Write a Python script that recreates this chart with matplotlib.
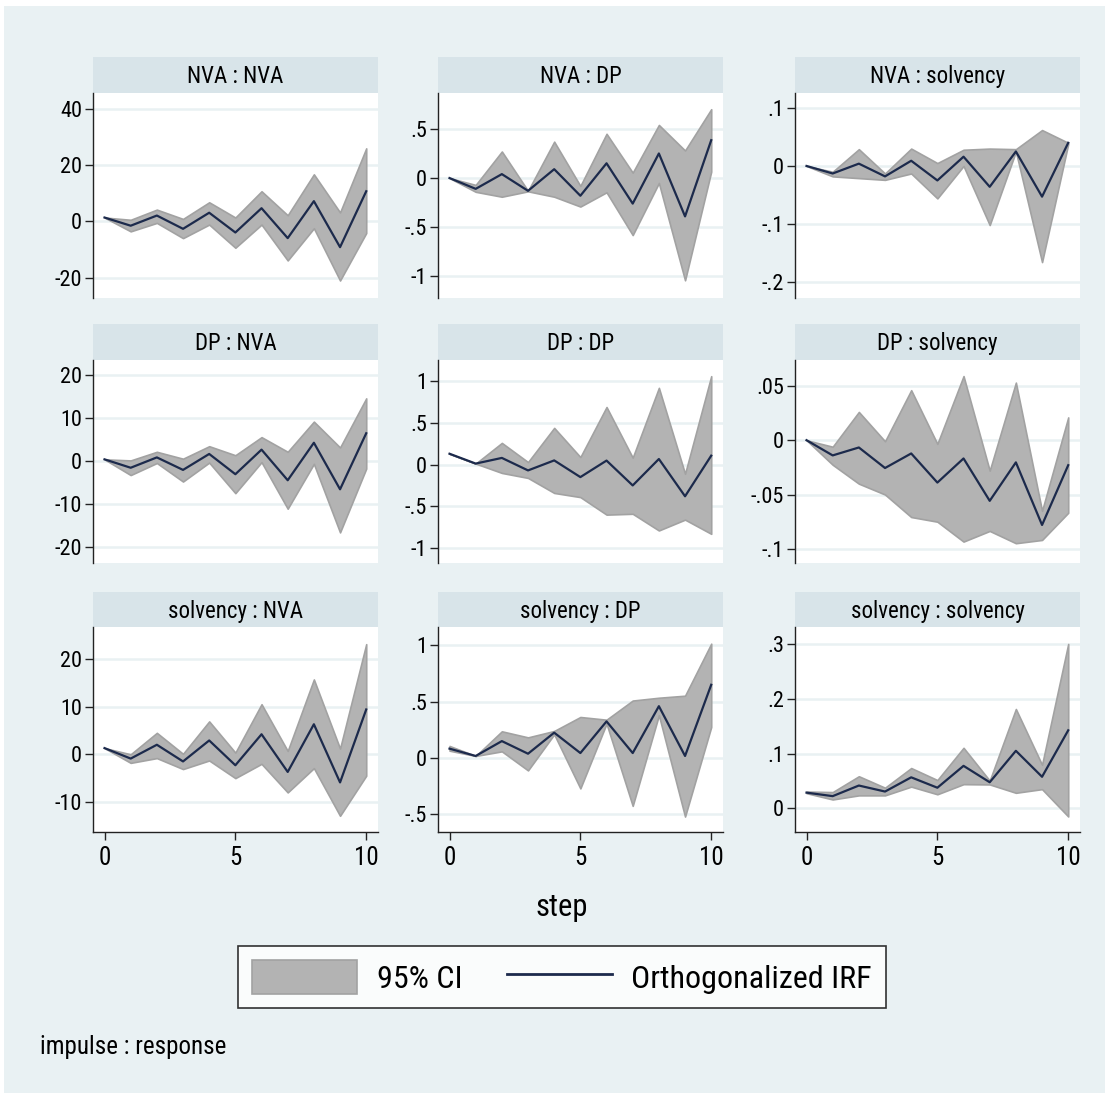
import matplotlib
matplotlib.use('Agg')
import matplotlib.pyplot as plt
import matplotlib.font_manager as fm
from matplotlib.patches import Rectangle, Patch
from matplotlib.lines import Line2D

# fonte: procura uma versao estreita (parecida com a Helvetica Narrow do Stata)
fontes = fm.fontManager.ttflist
nomes = {f.name for f in fontes}
fonte = None
esticar = 'normal'
for n in ['Liberation Sans Narrow', 'Arial Narrow', 'Roboto Condensed', 'Noto Sans Condensed',
          'Open Sans Condensed', 'DejaVu Sans Condensed']:
    if n in nomes:
        fonte = n
        break
if fonte is None:
    for n in ['Noto Sans', 'Open Sans', 'DejaVu Sans', 'Roboto']:
        if any(f.name == n and f.stretch in ('condensed', 'extra-condensed', 'semi-condensed')
               for f in fontes):
            fonte = n
            esticar = 'condensed'
            break
if fonte is None:
    fonte = 'Liberation Sans'
plt.rcParams['font.family'] = [fonte, 'DejaVu Sans']
plt.rcParams['font.stretch'] = esticar

# dados (passos 0..10)
passos = list(range(11))

titulos = ['NVA : NVA', 'NVA : DP', 'NVA : solvency',
           'DP : NVA', 'DP : DP', 'DP : solvency',
           'solvency : NVA', 'solvency : DP', 'solvency : solvency']

# NVA : NVA
irf_nva_nva = [1.4, -1.5, 2.1, -2.6, 3.1, -3.9, 4.7, -5.9, 7.2, -9.1, 10.7]
inf_nva_nva = [1.4, -3.5, -0.5, -5.9, -1.1, -9.3, -1.1, -13.8, -2.4, -20.9, -4.1]
sup_nva_nva = [1.4, 0.6, 4.2, 0.9, 6.8, 1.4, 10.7, 2.2, 16.7, 3.2, 25.9]

# NVA : DP
irf_nva_dp = [0.0, -0.11, 0.04, -0.13, 0.09, -0.18, 0.15, -0.26, 0.25, -0.39, 0.385]
inf_nva_dp = [0.0, -0.14, -0.19, -0.135, -0.19, -0.29, -0.145, -0.58, -0.05, -1.04, 0.065]
sup_nva_dp = [0.0, -0.07, 0.27, -0.13, 0.37, -0.08, 0.45, 0.055, 0.54, 0.28, 0.70]

# NVA : solvency
irf_nva_sol = [0.0, -0.013, 0.004, -0.018, 0.009, -0.025, 0.016, -0.036, 0.025, -0.053, 0.040]
inf_nva_sol = [0.0, -0.018, -0.021, -0.024, -0.013, -0.056, 0.0, -0.102, 0.025, -0.166, 0.038]
sup_nva_sol = [0.0, -0.010, 0.029, -0.013, 0.030, 0.005, 0.028, 0.030, 0.029, 0.062, 0.040]

# DP : NVA
irf_dp_nva = [0.45, -1.5, 0.9, -2.0, 1.7, -3.0, 2.7, -4.4, 4.3, -6.5, 6.5]
inf_dp_nva = [0.45, -3.2, -0.4, -4.7, -0.3, -7.4, -0.2, -11.0, -0.6, -16.5, -1.7]
sup_dp_nva = [0.45, 0.2, 2.2, 0.6, 3.5, 1.4, 5.6, 2.2, 9.2, 3.2, 14.6]

# DP : DP
irf_dp_dp = [0.13, 0.012, 0.08, -0.07, 0.05, -0.15, 0.048, -0.25, 0.067, -0.38, 0.107]
inf_dp_dp = [0.13, 0.012, -0.10, -0.16, -0.34, -0.39, -0.60, -0.59, -0.79, -0.66, -0.83]
sup_dp_dp = [0.13, 0.012, 0.26, 0.03, 0.44, 0.09, 0.69, 0.083, 0.92, -0.11, 1.06]

# DP : solvency
irf_dp_sol = [0.0, -0.014, -0.0067, -0.0256, -0.0122, -0.039, -0.0168, -0.0558, -0.0204, -0.078, -0.023]
inf_dp_sol = [0.0, -0.0226, -0.040, -0.050, -0.0707, -0.075, -0.0933, -0.0835, -0.0948, -0.0918, -0.0668]
sup_dp_sol = [0.0, -0.006, 0.026, -0.001, 0.046, -0.0034, 0.059, -0.028, 0.053, -0.065, 0.021]

# solvency : NVA
irf_sol_nva = [1.3, -0.9, 2.0, -1.5, 2.9, -2.3, 4.2, -3.7, 6.3, -5.9, 9.4]
inf_sol_nva = [1.3, -1.8, -0.8, -3.1, -1.3, -5.0, -2.0, -8.0, -2.9, -12.9, -4.5]
sup_sol_nva = [1.3, 0.0, 4.5, 0.1, 6.9, 0.35, 10.5, 0.7, 15.7, 1.2, 23.1]

# solvency : DP
irf_sol_dp = [0.083, 0.018, 0.15, 0.038, 0.225, 0.044, 0.325, 0.044, 0.46, 0.018, 0.65]
inf_sol_dp = [0.065, 0.018, 0.059, -0.11, 0.21, -0.27, 0.305, -0.425, 0.38, -0.52, 0.275]
sup_sol_dp = [0.107, 0.018, 0.237, 0.183, 0.24, 0.364, 0.34, 0.51, 0.535, 0.553, 1.015]

# solvency : solvency
irf_sol_sol = [0.029, 0.0226, 0.042, 0.031, 0.057, 0.038, 0.078, 0.048, 0.1055, 0.058, 0.143]
inf_sol_sol = [0.028, 0.0165, 0.024, 0.024, 0.040, 0.026, 0.0445, 0.044, 0.0287, 0.0354, -0.0146]
sup_sol_sol = [0.031, 0.030, 0.059, 0.038, 0.074, 0.052, 0.111, 0.051, 0.182, 0.080, 0.301]

irfs = [irf_nva_nva, irf_nva_dp, irf_nva_sol, irf_dp_nva, irf_dp_dp, irf_dp_sol,
        irf_sol_nva, irf_sol_dp, irf_sol_sol]
inferiores = [inf_nva_nva, inf_nva_dp, inf_nva_sol, inf_dp_nva, inf_dp_dp, inf_dp_sol,
              inf_sol_nva, inf_sol_dp, inf_sol_sol]
superiores = [sup_nva_nva, sup_nva_dp, sup_nva_sol, sup_dp_nva, sup_dp_dp, sup_dp_sol,
              sup_sol_nva, sup_sol_dp, sup_sol_sol]

# ticks do eixo y (valores e rotulos estilo Stata)
yticks = [[-20, 0, 20, 40], [-1, -0.5, 0, 0.5], [-0.2, -0.1, 0, 0.1],
          [-20, -10, 0, 10, 20], [-1, -0.5, 0, 0.5, 1], [-0.1, -0.05, 0, 0.05],
          [-10, 0, 10, 20], [-0.5, 0, 0.5, 1], [0, 0.1, 0.2, 0.3]]
ylabels = [['-20', '0', '20', '40'], ['-1', '-.5', '0', '.5'], ['-.2', '-.1', '0', '.1'],
           ['-20', '-10', '0', '10', '20'], ['-1', '-.5', '0', '.5', '1'], ['-.1', '-.05', '0', '.05'],
           ['-10', '0', '10', '20'], ['-.5', '0', '.5', '1'], ['0', '.1', '.2', '.3']]
ylims = [(-27.1, 45.5), (-1.22, 0.865), (-0.228, 0.126),
         (-23.6, 23.5), (-1.18, 1.254), (-0.113, 0.0738),
         (-16.3, 26.7), (-0.657, 1.163), (-0.043, 0.332)]

# cores
fundo = '#e9f1f3'
faixa = '#d8e4e9'
cinza = '#b3b3b3'
borda_ci = '#a2a2a2'
azul = '#1c2a4c'

W, H = 1110.0, 1101.0
fig = plt.figure(figsize=(11.1, 11.01), dpi=100)
fig.patch.set_facecolor('white')
fig.add_artist(Rectangle((4 / W, 1 - 1093 / H), 1101 / W, 1087 / H, transform=fig.transFigure,
                         facecolor=fundo, edgecolor='none', zorder=0))

colunas = [93, 438, 795]
largura = 285
topo_faixa = [57, 324, 592]
topo_plot = [93, 360, 627]
base_plot = [298, 563, 832]

for k in range(9):
    i = k // 3
    j = k % 3
    x0 = colunas[j] / W
    w = largura / W

    # faixa do titulo
    axf = fig.add_axes([x0, 1 - topo_plot[i] / H, w, (topo_plot[i] - topo_faixa[i]) / H])
    axf.set_facecolor(faixa)
    axf.set_xticks([])
    axf.set_yticks([])
    for s in axf.spines.values():
        s.set_visible(False)
    axf.text(0.5, 0.45, titulos[k], ha='center', va='center', fontsize=16.5, transform=axf.transAxes)

    # area do grafico
    ax = fig.add_axes([x0, 1 - base_plot[i] / H, w, (base_plot[i] - topo_plot[i]) / H])
    ax.set_facecolor('white')
    ax.fill_between(passos, inferiores[k], superiores[k], facecolor=cinza, edgecolor=borda_ci,
                    linewidth=1.2, zorder=2)
    ax.plot(passos, irfs[k], color=azul, linewidth=1.6, zorder=3)
    ax.set_xlim(-0.44, 10.45)
    ax.set_ylim(ylims[k])
    ax.set_yticks(yticks[k])
    ax.set_yticklabels(ylabels[k])
    ax.yaxis.grid(True, color=fundo, linewidth=1.8)
    ax.set_axisbelow(True)
    ax.spines['top'].set_visible(False)
    ax.spines['right'].set_visible(False)
    ax.spines['left'].set_color('#222222')
    ax.spines['left'].set_linewidth(1.0)
    ax.tick_params(axis='y', direction='out', length=6, width=1, color='#222222',
                   labelsize=16, pad=2)
    if i == 2:
        ax.spines['bottom'].set_color('#222222')
        ax.spines['bottom'].set_linewidth(1.0)
        ax.set_xticks([0, 5, 10])
        ax.tick_params(axis='x', direction='out', length=6, width=1, color='#222222',
                       labelsize=18, pad=4)
    else:
        ax.spines['bottom'].set_visible(False)
        ax.set_xticks([])

# titulo do eixo x
fig.text(562 / W, 1 - 908 / H, 'step', ha='center', va='center', fontsize=22)

# legenda
alcas = [Patch(facecolor=cinza, edgecolor=borda_ci, linewidth=1.2),
         Line2D([], [], color=azul, linewidth=2)]
leg = fig.legend(alcas, ['95% CI', 'Orthogonalized IRF'], ncol=2, loc='center',
                 bbox_to_anchor=(562 / W, 1 - 977 / H), frameon=True, fancybox=False,
                 edgecolor='black', facecolor='white', fontsize=23, handlelength=3.3,
                 handleheight=1.25, columnspacing=1.4, handletextpad=0.6, borderpad=0.45)
leg.get_frame().set_linewidth(1.2)

fig.text(40 / W, 1 - 1047 / H, 'impulse : response', ha='left', va='center', fontsize=18)

fig.savefig('out.png', dpi=100, facecolor=fig.get_facecolor())
